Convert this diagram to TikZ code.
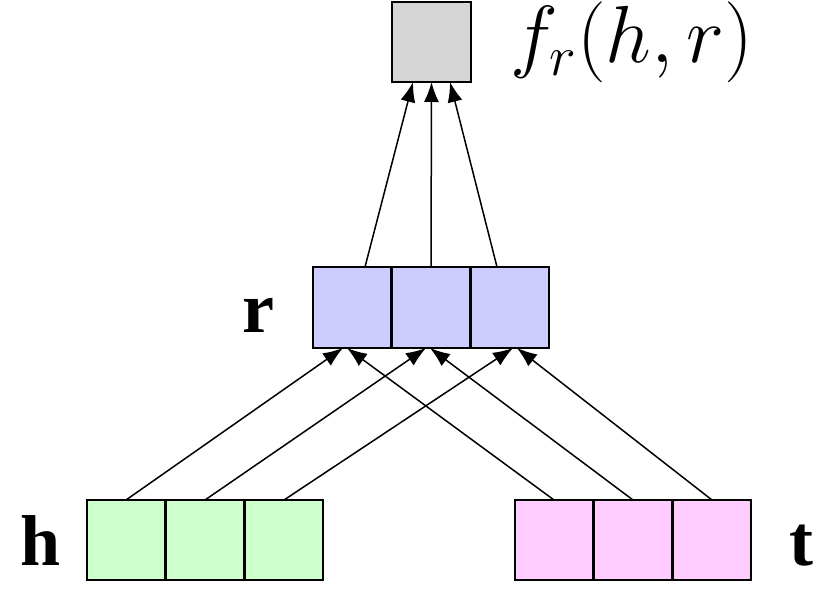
\documentclass[tikz,border=0pt]{standalone}
\usepackage{fix-cm}
\usepackage{fontspec}
\setmainfont{Liberation Serif}
\usetikzlibrary{arrows.meta}
\definecolor{scorefill}{HTML}{D5D5D5}
\definecolor{relfill}{HTML}{CCCCFF}
\definecolor{headfill}{HTML}{CCFFCC}
\definecolor{tailfill}{HTML}{FFCCFF}
\tikzset{
  cell/.style={draw,line width=1pt,minimum width=39.4pt,minimum height=40pt,inner sep=0pt,outer sep=0pt},
  vlabel/.style={font=\fontsize{36}{40}\selectfont\bfseries,inner sep=0pt,anchor=base west},
  edge/.style={-{Latex[length=10pt,width=7.5pt]},line width=0.75pt}
}
\begin{document}
\begin{tikzpicture}[x=0.5pt,y=-0.5pt]
				\useasboundingbox (0,0) rectangle (830,598);
				\node[cell,fill=scorefill] (f) at (431.5,42) {};
				\node[anchor=base west,inner sep=0pt,font=\fontsize{40.5}{44}\selectfont] (fl) at (510,63) {$f_r(h,r)$};
				\foreach \i/\x in {1/352,2/431,3/510}
					\node[cell,fill=relfill,minimum height=40.5pt] (r\i) at (\x,307.5) {};
				\foreach \i/\x in {1/126,2/205,3/284}
					\node[cell,fill=headfill] (h\i) at (\x,540) {};
				\foreach \i/\x in {1/554,2/633,3/712}
					\node[cell,fill=tailfill] (t\i) at (\x,540) {};
				\node[vlabel] (rl) at (242,333) {r};
				\node[vlabel] (hl) at (20,565) {h};
				\node[vlabel] (tl) at (789,565) {t};
				\draw[edge] ([xshift=6.5pt]r1.north) -- ([xshift=-9.25pt]f.south);
				\draw[edge] (r2.north) -- (f.south);
				\draw[edge] ([xshift=-6.5pt]r3.north) -- ([xshift=9.25pt]f.south);
				\foreach \i/\d in {1/-3.5,2/-1.5,3/2.5} {
					\draw[edge] (h\i.north) -- ([xshift=\d pt-1pt]r\i.south);
					\draw[edge] (t\i.north) -- ([xshift=\d pt+1pt]r\i.south);
				}
\end{tikzpicture}
\end{document}
